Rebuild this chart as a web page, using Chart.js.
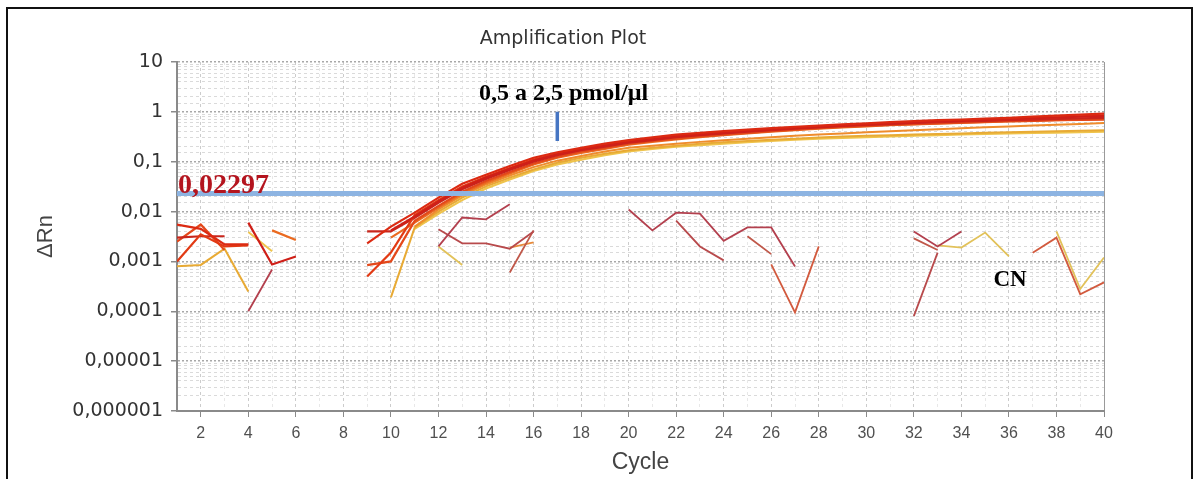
<!DOCTYPE html>
<html><head><meta charset="utf-8">
<script src="https://cdn.jsdelivr.net/npm/chart.js@4"></script>
<style>html,body{margin:0;padding:0;background:#fff}#wrap{width:1198px;height:479px;position:relative}</style>
</head><body><div id="wrap"><canvas id="c" width="1198" height="479"></canvas></div>
<script>
// ---- data ----
const cycles = [1,2,3,4,5,6,7,8,9,10,11,12,13,14,15,16,17,18,19,20,21,22,23,24,25,26,27,28,29,30,31,32,33,34,35,36,37,38,39,40];

const ampR1 = [0.0055,0.0045,0.0022,0.0022,null,null,null,null,0.0023,0.005,0.0095,0.019,0.036,0.055,0.082,0.12,0.155,0.19,0.23,0.27,0.31,0.35,0.38,0.41,0.44,0.47,0.5,0.53,0.56,0.59,0.62,0.65,0.68,0.7,0.73,0.76,0.8,0.84,0.88,0.92];
const ampR2 = [0.001,0.0035,0.002,0.0021,null,null,null,null,0.0005,0.0015,0.0085,0.017,0.032,0.05,0.075,0.11,0.145,0.18,0.22,0.26,0.29,0.33,0.36,0.39,0.42,0.45,0.48,0.51,0.54,0.57,0.6,0.62,0.65,0.67,0.7,0.72,0.75,0.78,0.81,0.85];
const ampR3 = [0.003,0.0032,0.0032,null,null,null,null,null,0.004,0.004,0.0075,0.015,0.028,0.045,0.068,0.1,0.135,0.17,0.2,0.24,0.27,0.31,0.34,0.37,0.4,0.43,0.46,0.49,0.52,0.55,0.57,0.6,0.62,0.64,0.66,0.68,0.7,0.72,0.74,0.76];
const ampR4 = [0.0025,0.0055,0.0017,null,null,null,null,null,0.00084,0.001,0.0065,0.013,0.025,0.041,0.062,0.092,0.125,0.16,0.19,0.23,0.26,0.29,0.32,0.35,0.38,0.41,0.44,0.47,0.5,0.52,0.55,0.57,0.59,0.61,0.63,0.65,0.66,0.68,0.69,0.7];
const ampR5 = [null,null,null,0.006,0.00087,0.00126,null,null,null,0.0042,0.008,0.016,0.03,0.048,0.072,0.105,0.14,0.175,0.21,0.25,0.28,0.32,0.35,0.38,0.41,0.44,0.47,0.5,0.53,0.56,0.59,0.61,0.64,0.66,0.69,0.71,0.74,0.77,0.8,0.82];
const ampR6 = [null,null,null,null,0.0042,0.0027,null,null,null,0.003,0.006,0.012,0.023,0.038,0.058,0.088,0.12,0.15,0.18,0.22,0.25,0.28,0.31,0.34,0.37,0.4,0.43,0.46,0.49,0.51,0.54,0.56,0.58,0.6,0.62,0.64,0.66,0.68,0.7,0.72];
const ampO1 = [null,null,null,null,null,null,null,null,null,null,0.005,0.011,0.021,0.035,0.053,0.078,0.105,0.13,0.16,0.19,0.21,0.23,0.25,0.27,0.29,0.31,0.33,0.35,0.37,0.39,0.41,0.43,0.45,0.47,0.49,0.51,0.53,0.55,0.57,0.6];
const ampY1 = [0.0008,0.00085,0.0018,0.00025,null,null,null,null,null,0.00019,0.0048,0.01,0.019,0.032,0.048,0.07,0.095,0.12,0.145,0.17,0.19,0.21,0.23,0.245,0.26,0.275,0.29,0.305,0.32,0.33,0.34,0.35,0.36,0.37,0.38,0.39,0.4,0.41,0.42,0.43];
const ampY2 = [null,null,null,0.0039,0.0016,null,null,null,null,null,0.0045,0.009,0.017,0.029,0.044,0.065,0.088,0.11,0.135,0.16,0.18,0.2,0.215,0.23,0.245,0.26,0.275,0.29,0.3,0.31,0.32,0.33,0.34,0.35,0.36,0.37,0.375,0.38,0.39,0.4];

const noiseA = [null,null,null,0.0001,0.00069,null,null,null,null,null,null,0.002,0.0076,0.007,0.014,null,null,null,null,0.011,0.0042,0.0095,0.0091,0.0026,0.0048,0.0048,0.00079,null,null,null,null,0.004,0.002,0.004,null,null,null,null,null,null];
const noiseB = [null,null,null,null,null,null,null,null,null,null,null,0.0044,0.0023,0.0023,0.0018,0.004,null,null,null,null,null,0.0066,0.002,0.00105,null,null,null,null,null,null,null,0.00008,0.0015,null,null,null,null,null,null,null];
const noiseC = [null,null,null,null,null,null,null,null,null,null,null,null,null,null,0.0006,0.0042,null,null,null,null,null,null,null,null,0.0032,0.0014,null,null,null,null,null,0.0029,0.0017,null,null,null,null,null,null,null];
const noiseD = [null,null,null,null,null,null,null,null,null,null,null,null,null,null,null,null,null,null,null,null,null,null,null,null,null,0.00087,0.000095,0.002,null,null,null,null,null,null,null,null,0.0015,0.003,0.00022,0.00038];
const noiseE = [null,null,null,null,null,null,null,null,null,null,null,0.002,0.00085,null,null,null,null,null,null,null,null,null,null,null,null,null,null,null,null,null,null,null,0.0021,0.0019,0.0038,0.00126,null,0.004,0.00028,0.0012];
const noiseF = [null,null,null,null,null,null,null,null,null,null,null,null,null,null,0.0019,0.0024,null,null,null,null,null,null,null,null,null,null,null,null,null,null,null,null,null,null,null,null,null,null,null,null];

const thresholdValue = 0.02297;
const thresholdCycles = [1, 40];
const markerCycle = 17;
const markerRange = [1, 0.26];
const xTickStep = 2;
const yMin = 0.000001, yMax = 10;

// ---- helpers ----
const isMajor = v => { const l = Math.log10(v); return Math.abs(l - Math.round(l)) < 1e-6; };
const fmtY = v => {
  if (!isMajor(v)) return '';
  const e = Math.round(Math.log10(v));
  if (e >= 0) return String(Math.round(v));
  return '0,' + '0'.repeat(-e - 1) + '1';
};
const line = (data, color, width, extra) => Object.assign({
  data, borderColor: color, borderWidth: width || 2, pointRadius: 0,
  tension: 0, fill: false, spanGaps: false
}, extra || {});

const datasets = [
  line(thresholdCycles.map(c => ({x: c, y: thresholdValue})), '#8db4e2', 5, {borderCapStyle: 'butt'}),
  line([{x: markerCycle, y: markerRange[0]}, {x: markerCycle, y: markerRange[1]}], '#4675c2', 3.5, {borderCapStyle: 'butt'}),
  line(ampR1, '#dc2a12', 2.2),
  line(ampR5, '#cf1f18', 2.2),
  line(ampR2, '#e23a14', 2.2),
  line(ampR3, '#c9261c', 2.2),
  line(ampR4, '#e4481a', 2.2),
  line(ampR6, '#ea6a20', 2.2),
  line(ampO1, '#ef8c2c', 2),
  line(ampY1, '#e8aa34', 2),
  line(ampY2, '#efc44c', 2),
  line(noiseA, '#b3404e', 1.8),
  line(noiseB, '#b84a4c', 1.8),
  line(noiseC, '#c0584a', 1.8),
  line(noiseD, '#d25a3e', 1.8),
  line(noiseE, '#e2c25a', 1.8),
  line(noiseF, '#e88a3a', 1.8)
];

const decor = {
  id: 'decor',
  beforeDraw(chart) {
    const ctx = chart.ctx;
    ctx.save();
    ctx.fillStyle = '#fff';
    ctx.fillRect(0, 0, chart.width, chart.height);
    ctx.restore();
  },
  afterDraw(chart) {
    const ctx = chart.ctx;
    ctx.save();
    ctx.strokeStyle = '#111';
    ctx.lineWidth = 2;
    ctx.strokeRect(7, 8, 1185, 520);
    ctx.fillStyle = '#333';
    ctx.font = '19px "DejaVu Sans"';
    ctx.textAlign = 'center';
    ctx.textBaseline = 'middle';
    ctx.fillText('Amplification Plot', 563, 39);
    ctx.textBaseline = 'alphabetic';
    ctx.textAlign = 'left';
    ctx.fillStyle = '#000';
    ctx.font = 'bold 24px "Liberation Serif"';
    ctx.fillText('0,5 a 2,5 pmol/µl', 479, 100);
    ctx.fillStyle = '#b4141e';
    ctx.font = 'bold 28px "Liberation Serif"';
    ctx.fillText('0,02297', 178, 193);
    ctx.fillStyle = '#000';
    ctx.font = 'bold 23px "Liberation Serif"';
    ctx.textAlign = 'center';
    ctx.fillText('CN', 1010, 286);
    ctx.restore();
  }
};

new Chart(document.getElementById('c'), {
  type: 'line',
  data: { labels: cycles, datasets },
  plugins: [decor],
  options: {
    responsive: false, animation: false, devicePixelRatio: 1,
    layout: { padding: { top: 62, right: 94, left: 0, bottom: 0 } },
    plugins: { legend: { display: false }, tooltip: { enabled: false }, title: { display: false } },
    scales: {
      x: {
        type: 'linear', min: 1, max: 40,
        afterFit(s) { s.height = 68; },
        ticks: {
          stepSize: 1, autoSkip: false, maxRotation: 0, padding: 7,
          color: '#505050', font: { family: 'Liberation Sans', size: 16 },
          callback: v => (v % xTickStep === 0 ? String(v) : '')
        },
        grid: {
          color: c => (c.tick && c.tick.value === 40 ? '#9a9a9a' : (c.tick && c.tick.value % 2 === 0 ? '#cccccc' : '#e8e8e8')),
          lineWidth: 1,
          tickLength: 6,
          tickColor: c => (c.tick && c.tick.value % 2 === 0 ? '#8a8a8a' : 'rgba(0,0,0,0)')
        },
        border: { display: true, color: '#8a8a8a', width: 2, dash: c => (c.tick && c.tick.value === 40 ? [] : [3, 3]) },
        title: { display: true, text: 'Cycle', color: '#444', font: { family: 'Liberation Sans', size: 23 }, padding: { top: 0, bottom: 3 } }
      },
      y: {
        type: 'logarithmic', min: yMin, max: yMax,
        afterFit(s) { s.width = 177; },
        ticks: {
          autoSkip: false, padding: 8, color: '#333',
          font: { family: 'DejaVu Sans', size: 19 },
          callback: v => fmtY(v)
        },
        grid: {
          color: c => (c.tick && isMajor(c.tick.value) ? '#a8a8a8' : '#dadada'),
          lineWidth: c => (c.tick && isMajor(c.tick.value) ? 1.5 : 1),
          tickLength: 6,
          tickColor: c => (c.tick && isMajor(c.tick.value) ? '#8a8a8a' : 'rgba(0,0,0,0)')
        },
        border: { display: true, color: '#8a8a8a', width: 2, dash: c => (c.tick && isMajor(c.tick.value) ? [2, 2] : [3, 3]) },
        title: { display: true, text: 'ΔRn', color: '#444', font: { family: 'Liberation Sans', size: 22 }, padding: { top: 33, bottom: 0 } }
      }
    }
  }
});
</script>
</body></html>
